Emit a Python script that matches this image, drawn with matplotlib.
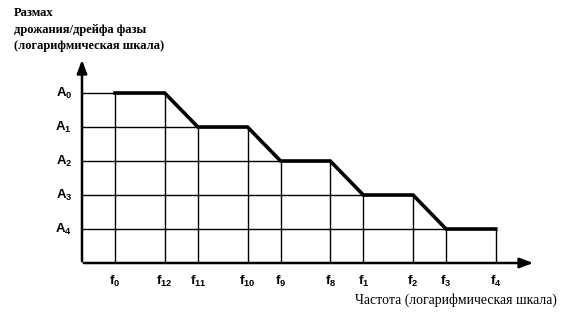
import matplotlib
matplotlib.use("Agg")
import matplotlib.pyplot as plt

# ---- data ----
freq_labels = ["0", "12", "11", "10", "9", "8", "1", "2", "3", "4"]
freq_pos = [1, 2.5, 3.5, 5, 6, 7.5, 8.5, 10, 11, 12.5]
curve_level = [5, 5, 4, 4, 3, 3, 2, 2, 1, 1]
amp_labels = ["0", "1", "2", "3", "4"]
amp_pos = [5, 4, 3, 2, 1]
y_title = ["Размах", "дрожания/дрейфа фазы", "(логарифмическая шкала)"]
x_title = "Частота (логарифмическая шкала)"

plt.rcParams["font.family"] = ["Liberation Serif", "DejaVu Serif"]
plt.rcParams["mathtext.fontset"] = "custom"
plt.rcParams["mathtext.rm"] = "Liberation Sans:bold"
plt.rcParams["mathtext.it"] = "Liberation Sans:bold"
plt.rcParams["mathtext.bf"] = "Liberation Sans:bold"

W, H = 561, 322
fig = plt.figure(figsize=(W / 100, H / 100), dpi=100)
ax = fig.add_axes([0, 0, 1, 1])
ox, oy, sx, sy = 82, 263, 33.1, 34.0
ax.set_xlim(-ox / sx, (W - ox) / sx)
ax.set_ylim((oy - H) / sy, oy / sy)
ax.axis("off")

# grid: vertical lines
for x, lv in zip(freq_pos, curve_level):
    ax.plot([x, x], [0, lv], color="black", lw=1.0, solid_capstyle="butt")
# grid: horizontal lines
for a in amp_pos:
    xmax = max(x for x, lv in zip(freq_pos, curve_level) if lv == a)
    ax.plot([0, xmax], [a, a], color="black", lw=1.0, solid_capstyle="butt")

# curve
ax.plot(freq_pos, curve_level, color="black", lw=2.6, solid_joinstyle="miter")

# axes with arrows
ytop = (oy - 57) / sy
xend = (536 - ox) / sx
ax.annotate("", xy=(0, ytop), xytext=(0, -0.03),
            arrowprops=dict(arrowstyle="-|>,head_length=0.8,head_width=0.3", lw=1.8, color="black"))
ax.annotate("", xy=(xend, 0), xytext=(-0.03, 0),
            arrowprops=dict(arrowstyle="-|>,head_length=0.8,head_width=0.3", lw=1.8, color="black"))

# labels
for lab, a in zip(amp_labels, amp_pos):
    ax.text(-0.3, a - 0.02, r"$\mathrm{A}_{%s}$" % lab, ha="right", va="center", fontsize=9.5)
for lab, x in zip(freq_labels, freq_pos):
    ax.text(x, -0.55, r"$\mathrm{f}_{%s}$" % lab, ha="center", va="center", fontsize=9.5)

for i, t in enumerate(y_title):
    fig.text(14 / W, 1 - (13 + 16.5 * i) / H, t, ha="left", va="center", fontsize=9, fontweight="bold")
fig.text(355 / W, 1 - 300 / H, x_title, ha="left", va="center", fontsize=9.9)

fig.savefig("out.png", dpi=100)
